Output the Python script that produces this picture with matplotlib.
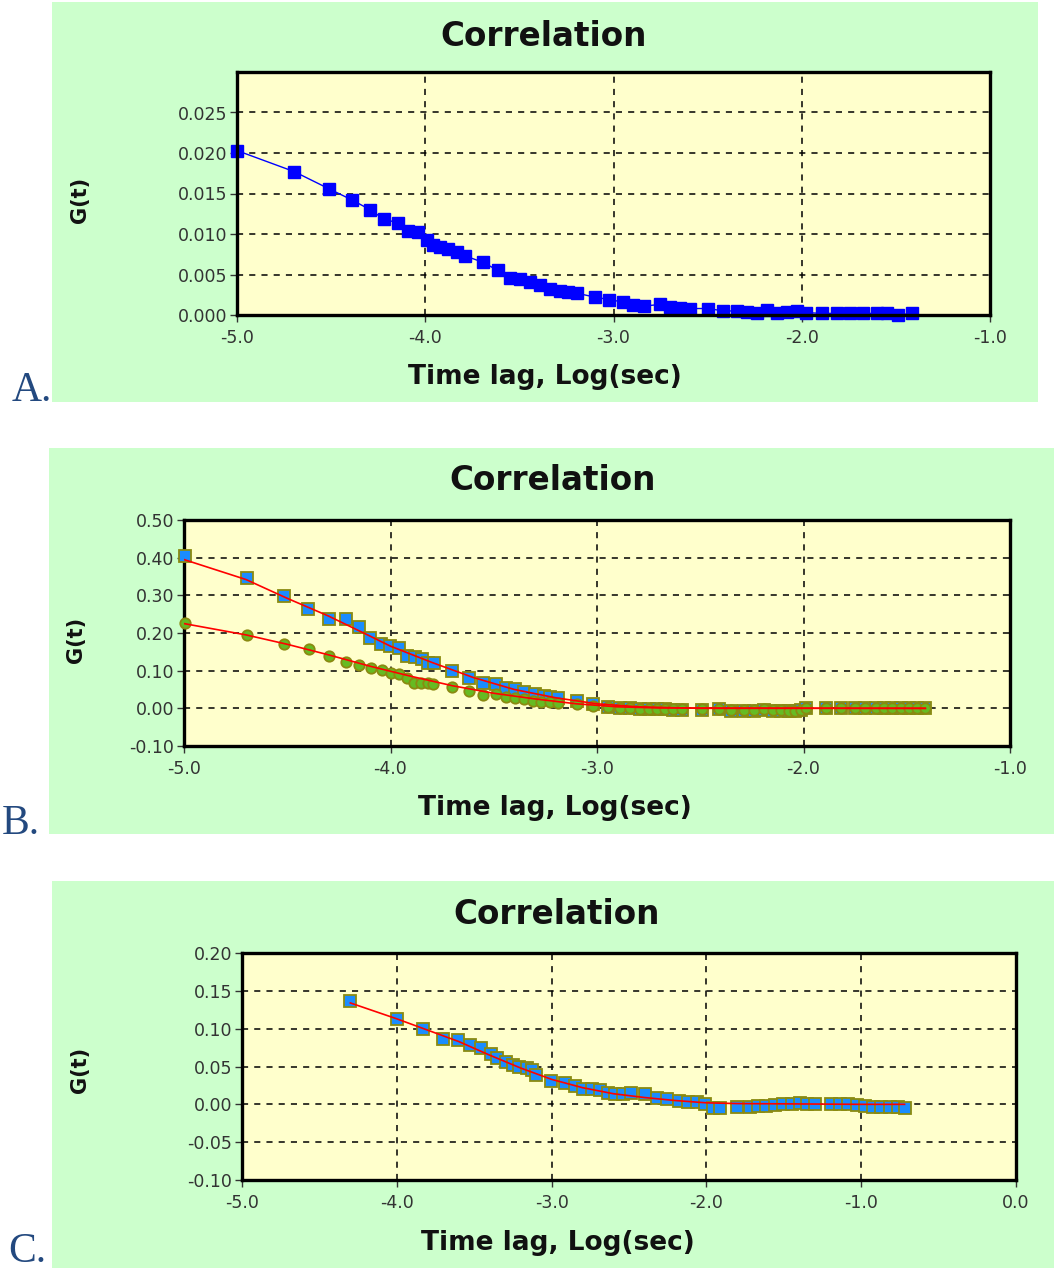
import matplotlib
matplotlib.use("Agg")
import matplotlib.pyplot as plt
from matplotlib.patches import Rectangle
from matplotlib.ticker import FormatStrFormatter

W, H = 1054, 1270

# ---------------- Data ----------------
# Panel A
a_x = [-5.0, -4.696, -4.513, -4.389, -4.293, -4.218, -4.146, -4.090, -4.037, -3.992,
       -3.957, -3.922, -3.877, -3.833, -3.789, -3.692, -3.615, -3.550, -3.497, -3.444,
       -3.390, -3.337, -3.284, -3.240, -3.196, -3.098, -3.022, -2.950, -2.895, -2.840,
       -2.753, -2.700, -2.647, -2.594, -2.497, -2.417, -2.346, -2.290, -2.240, -2.186,
       -2.133, -2.080, -2.027, -1.980, -1.894, -1.814, -1.744, -1.673, -1.602, -1.549,
       -1.487, -1.416]
a_y = [0.0203, 0.0177, 0.0156, 0.0142, 0.0130, 0.0118, 0.0114, 0.0104, 0.0102, 0.0092,
       0.0086, 0.0084, 0.0081, 0.0078, 0.0073, 0.0065, 0.0055, 0.0046, 0.0044, 0.0041,
       0.0037, 0.0032, 0.0030, 0.0029, 0.0027, 0.0022, 0.0019, 0.0016, 0.0012, 0.0011,
       0.0013, 0.0010, 0.0009, 0.0008, 0.0008, 0.0005, 0.0005, 0.0004, 0.0003, 0.0006,
       0.0003, 0.0004, 0.0005, 0.0003, 0.0002, 0.0002, 0.0002, 0.0002, 0.0002, 0.0002,
       0.0000, 0.0002]

# Panel B - blue squares
b1_x = [-4.995, -4.693, -4.517, -4.398, -4.296, -4.217, -4.152, -4.099, -4.048, -4.002,
        -3.957, -3.919, -3.882, -3.846, -3.817, -3.788, -3.700, -3.619, -3.554, -3.490,
        -3.440, -3.397, -3.352, -3.300, -3.255, -3.228, -3.190, -3.095, -3.018, -2.945,
        -2.889, -2.840, -2.790, -2.750, -2.710, -2.670, -2.630, -2.590, -2.490, -2.410,
        -2.350, -2.290, -2.240, -2.190, -2.150, -2.110, -2.070, -2.040, -2.010, -1.990,
        -1.890, -1.820, -1.750, -1.700, -1.650, -1.610, -1.570, -1.530, -1.490, -1.450,
        -1.410]
b1_y = [0.405, 0.347, 0.298, 0.263, 0.236, 0.236, 0.215, 0.187, 0.170, 0.165,
        0.161, 0.139, 0.137, 0.130, 0.121, 0.121, 0.099, 0.081, 0.068, 0.064,
        0.055, 0.050, 0.044, 0.037, 0.033, 0.029, 0.028, 0.019, 0.011, 0.004,
        0.001, 0.000, -0.002, -0.002, -0.003, -0.003, -0.005, -0.005, -0.004, -0.003,
        -0.008, -0.006, -0.006, -0.005, -0.006, -0.006, -0.007, -0.006, -0.005, 0.000,
        0.000, 0.000, 0.000, 0.000, 0.000, 0.000, 0.000, 0.000, 0.000, 0.000,
        0.000]
# Panel B - green circles
b2_x = [-4.995, -4.693, -4.517, -4.395, -4.296, -4.217, -4.152, -4.094, -4.043, -3.999,
        -3.957, -3.919, -3.885, -3.850, -3.820, -3.793, -3.700, -3.619, -3.554, -3.490,
        -3.440, -3.397, -3.352, -3.310, -3.270, -3.228, -3.190, -3.095, -3.018, -2.945,
        -2.889, -2.840, -2.790, -2.750, -2.710, -2.670, -2.630, -2.590, -2.490, -2.410,
        -2.350, -2.290, -2.240, -2.190, -2.150, -2.110, -2.070, -2.040, -2.010, -1.990,
        -1.890, -1.820, -1.750, -1.700, -1.650, -1.610, -1.570, -1.530, -1.490, -1.450,
        -1.410]
b2_y = [0.227, 0.196, 0.170, 0.157, 0.139, 0.124, 0.115, 0.106, 0.102, 0.095,
        0.091, 0.081, 0.068, 0.068, 0.068, 0.064, 0.057, 0.046, 0.035, 0.037,
        0.031, 0.027, 0.024, 0.019, 0.018, 0.016, 0.013, 0.011, 0.007, 0.003,
        0.000, 0.000, -0.001, -0.001, -0.001, -0.002, -0.003, -0.003, -0.003, -0.003,
        -0.004, -0.004, -0.004, -0.003, -0.005, -0.005, -0.006, -0.006, -0.005, 0.000,
        0.000, 0.000, 0.000, 0.000, 0.000, 0.000, 0.000, 0.000, 0.000, 0.000,
        0.000]
# Panel B - fit curves
b1_fit_x = [-5.0, -4.7, -4.5, -4.3, -4.1, -4.0, -3.8, -3.6, -3.4, -3.2, -3.0, -2.8, -2.5, -1.41]
b1_fit_y = [0.395, 0.342, 0.292, 0.245, 0.192, 0.165, 0.122, 0.082, 0.050, 0.028, 0.012, 0.004, 0.000, 0.000]
b2_fit_x = [-5.0, -4.7, -4.5, -4.3, -4.1, -3.9, -3.7, -3.5, -3.3, -3.1, -2.9, -2.7, -1.41]
b2_fit_y = [0.225, 0.195, 0.170, 0.142, 0.112, 0.085, 0.060, 0.040, 0.025, 0.012, 0.004, 0.001, 0.000]

# Panel C
c_x = [-4.302, -4.000, -3.829, -3.700, -3.603, -3.528, -3.458, -3.394, -3.350, -3.295,
       -3.251, -3.209, -3.160, -3.124, -3.100, -3.006, -2.913, -2.849, -2.795, -2.741,
       -2.690, -2.633, -2.590, -2.540, -2.490, -2.397, -2.320, -2.256, -2.180, -2.117,
       -2.063, -2.010, -1.956, -1.913, -1.805, -1.720, -1.666, -1.612, -1.558, -1.504,
       -1.450, -1.397, -1.353, -1.300, -1.192, -1.138, -1.084, -1.030, -0.977, -0.923,
       -0.869, -0.815, -0.761, -0.718]
c_y = [0.137, 0.113, 0.099, 0.087, 0.085, 0.079, 0.075, 0.066, 0.061, 0.056,
       0.052, 0.050, 0.048, 0.045, 0.039, 0.031, 0.028, 0.024, 0.020, 0.020,
       0.019, 0.015, 0.014, 0.014, 0.015, 0.014, 0.009, 0.007, 0.005, 0.003,
       0.003, 0.001, -0.005, -0.005, -0.004, -0.003, -0.002, -0.002, -0.001, 0.000,
       0.001, 0.002, 0.000, 0.001, 0.000, 0.000, 0.001, -0.001, -0.002, -0.004,
       -0.004, -0.003, -0.004, -0.005]
c_fit_x = [-4.3, -4.0, -3.8, -3.6, -3.4, -3.2, -3.0, -2.8, -2.6, -2.4, -2.2, -2.0, -1.8, -1.0, -0.72]
c_fit_y = [0.134, 0.113, 0.098, 0.083, 0.065, 0.048, 0.033, 0.022, 0.014, 0.009, 0.005, 0.002, 0.001, 0.000, 0.000]

# ---------------- Styles ----------------
GREEN_BG = "#ccffcc"
PLOT_BG = "#ffffcc"
LETTER_COL = "#23497f"
TICK_COL = "#333333"

fig = plt.figure(figsize=(W / 100, H / 100), dpi=100)
fig.patch.set_facecolor("white")


def fx(px):
    return px / W


def fy(py):
    return 1 - py / H


def green_rect(x0, y0, x1, y1):
    fig.patches.append(Rectangle((fx(x0), fy(y1)), fx(x1) - fx(x0), fy(y0) - fy(y1),
                                 transform=fig.transFigure, facecolor=GREEN_BG,
                                 edgecolor="none", zorder=-10))


def make_axes(x0, y0, x1, y1):
    ax = fig.add_axes([fx(x0), fy(y1), fx(x1) - fx(x0), fy(y0) - fy(y1)])
    ax.set_zorder(2)
    ax.set_facecolor(PLOT_BG)
    for s in ax.spines.values():
        s.set_linewidth(2.4)
        s.set_color("black")
    ax.grid(True, color="black", linestyle=(0, (4, 4)), linewidth=1.1)
    ax.set_axisbelow(True)
    ax.tick_params(direction="out", length=5, width=1, color=TICK_COL,
                   labelsize=12.5, labelcolor=TICK_COL, pad=2)
    ax.tick_params(axis="x", pad=5)
    ax.xaxis.set_major_formatter(FormatStrFormatter("%.1f"))
    return ax


def labels(title_xy, xlabel_xy, ylabel_xy, letter, letter_xy):
    fig.text(fx(title_xy[0]), fy(title_xy[1]), "Correlation", ha="center", va="center",
             fontsize=23.5, fontweight="bold", color="#111111", zorder=5)
    fig.text(fx(xlabel_xy[0]), fy(xlabel_xy[1]), "Time lag, Log(sec)", ha="center",
             va="center", fontsize=19, fontweight="bold", color="#111111", zorder=5)
    fig.text(fx(ylabel_xy[0]), fy(ylabel_xy[1]), "G(t)", ha="center", va="center",
             rotation=90, fontsize=15, fontweight="bold", color="#111111", zorder=5)
    fig.text(fx(letter_xy[0]), fy(letter_xy[1]), letter, ha="left", va="baseline",
             fontsize=30, family="Liberation Serif", color=LETTER_COL, zorder=5)


# ---------------- Panel A ----------------
green_rect(52, 2, 1038, 402)
axA = make_axes(237, 72, 990, 315)
axA.plot(a_x, a_y, color="#0000ff", linewidth=1, marker="s", markersize=8,
         markerfacecolor="#0000ff", markeredgecolor="#0000ff", clip_on=False)
axA.set_xlim(-5, -1)
axA.set_ylim(0, 0.030)
axA.set_xticks([-5, -4, -3, -2, -1])
axA.set_yticks([0, 0.005, 0.010, 0.015, 0.020, 0.025])
axA.yaxis.set_major_formatter(FormatStrFormatter("%.3f"))
labels((544, 36), (545, 377), (80, 200), "A.", (12, 401))

# ---------------- Panel B ----------------
green_rect(49, 448, 1054, 834)
axB = make_axes(184, 520, 1010, 746)
axB.plot(b1_x, b1_y, linestyle="none", marker="s", markersize=8.5,
         markerfacecolor="#1a8cff", markeredgecolor="#8a8a10", markeredgewidth=1.3,
         clip_on=False, zorder=3)
axB.plot(b2_x, b2_y, linestyle="none", marker="o", markersize=7.5,
         markerfacecolor="#66bb22", markeredgecolor="#8a8a10", markeredgewidth=1.3,
         clip_on=False, zorder=4)
axB.plot(b1_fit_x, b1_fit_y, color="#ff0000", linewidth=1.2, zorder=5)
axB.plot(b2_fit_x, b2_fit_y, color="#ff0000", linewidth=1.2, zorder=5)
axB.set_xlim(-5, -1)
axB.set_ylim(-0.10, 0.50)
axB.set_xticks([-5, -4, -3, -2, -1])
axB.set_yticks([-0.1, 0.0, 0.1, 0.2, 0.3, 0.4, 0.5])
axB.yaxis.set_major_formatter(FormatStrFormatter("%.2f"))
labels((553, 481), (555, 808), (76, 640), "B.", (2, 834))

# ---------------- Panel C ----------------
green_rect(52, 881, 1054, 1268)
axC = make_axes(242, 953, 1016, 1180)
axC.plot(c_x, c_y, linestyle="none", marker="s", markersize=8.5,
         markerfacecolor="#1a8cff", markeredgecolor="#8a8a10", markeredgewidth=1.3,
         clip_on=False, zorder=3)
axC.plot(c_fit_x, c_fit_y, color="#ff0000", linewidth=1.2, zorder=5)
axC.set_xlim(-5, 0)
axC.set_ylim(-0.10, 0.20)
axC.set_xticks([-5, -4, -3, -2, -1, 0])
axC.set_yticks([-0.10, -0.05, 0.0, 0.05, 0.10, 0.15, 0.20])
axC.yaxis.set_major_formatter(FormatStrFormatter("%.2f"))
labels((557, 914), (558, 1243), (80, 1070), "C.", (8, 1262))

fig.savefig("out.png", dpi=100, facecolor="white")
